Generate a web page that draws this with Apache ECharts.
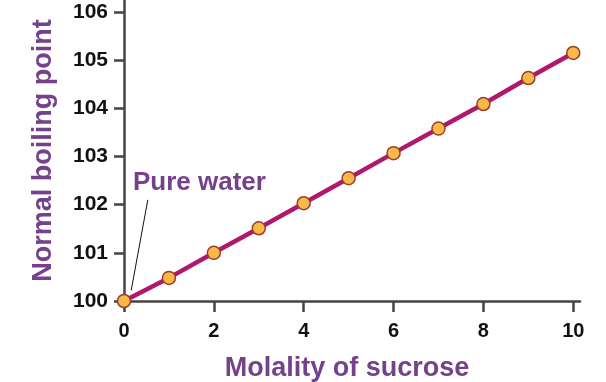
<!DOCTYPE html>
<html>
<head>
<meta charset="utf-8">
<script src="https://cdn.jsdelivr.net/npm/echarts@6/dist/echarts.min.js"></script>
<style>html,body{margin:0;padding:0;background:#fff}#c{width:606px;height:382px}</style>
</head>
<body>
<div id="c"></div>
<script>
const molality = [0, 1, 2, 3, 4, 5, 6, 7, 8, 9, 10];
const boilingPoint = [100, 100.48, 101.0, 101.51, 102.03, 102.55, 103.07, 103.58, 104.09, 104.63, 105.15];
const xTicks = [0, 2, 4, 6, 8, 10];
const yTicks = [100, 101, 102, 103, 104, 105, 106];
const annotationText = 'Pure water';
const annotationAnchor = [0.2, 102.45];
const pointerLine = [[0.53, 102.1], [0.16, 100.22]];

const purple = '#74418a';
const axisColor = '#444';
const font = '"Liberation Sans", Arial, Helvetica, sans-serif';

const chart = echarts.init(document.getElementById('c'), null, {renderer: 'canvas'});
chart.setOption({
  animation: false,
  backgroundColor: '#fff',
  grid: {left: 124, right: 26, top: 0, bottom: 81, containLabel: false, outerBoundsMode: 'none'},
  xAxis: {
    type: 'value', min: 0, max: 10.15,
    name: 'Molality of sucrose', nameLocation: 'middle', nameGap: 54, nameMoveOverlap: false,
    nameTextStyle: {color: purple, fontSize: 27, fontWeight: 'bold', fontFamily: font, padding: [0, 10, 0, 0]},
    axisLine: {show: true, lineStyle: {color: axisColor, width: 2.5}},
    axisTick: {show: true, length: 11, customValues: xTicks, lineStyle: {color: axisColor, width: 2.5}},
    axisLabel: {customValues: xTicks, color: '#111', fontSize: 20, fontWeight: 'bold', fontFamily: font, margin: 20},
    splitLine: {show: false}
  },
  yAxis: {
    type: 'value', min: 100, max: 106.25,
    name: 'Normal boiling point', nameLocation: 'middle', nameGap: 67, nameRotate: 90, nameMoveOverlap: false,
    nameTextStyle: {color: purple, fontSize: 27, fontWeight: 'bold', fontFamily: font},
    axisLine: {show: true, lineStyle: {color: axisColor, width: 2.5}},
    axisTick: {show: true, length: 10, customValues: yTicks, lineStyle: {color: axisColor, width: 2.5}},
    axisLabel: {customValues: yTicks, color: '#111', fontSize: 21, fontWeight: 'bold', fontFamily: font, margin: 16},
    splitLine: {show: false}
  },
  series: [{
    type: 'line',
    data: molality.map((m, i) => [m, boilingPoint[i]]),
    lineStyle: {color: '#b0186e', width: 4.5},
    symbol: 'circle', symbolSize: 13,
    itemStyle: {color: '#f9b84a', borderColor: '#9a3f26', borderWidth: 1.5},
    z: 3,
    markPoint: {
      symbol: 'circle', symbolSize: 0,
      label: {show: true, position: 'right', distance: 0, formatter: annotationText,
        color: purple, fontSize: 26, fontWeight: 'bold', fontFamily: font},
      data: [{coord: annotationAnchor}]
    },
    markLine: {
      silent: true, symbol: ['none', 'none'],
      lineStyle: {color: '#111', width: 1, type: 'solid'},
      label: {show: false},
      data: [[{coord: pointerLine[0]}, {coord: pointerLine[1]}]]
    }
  }]
});
</script>
</body>
</html>
